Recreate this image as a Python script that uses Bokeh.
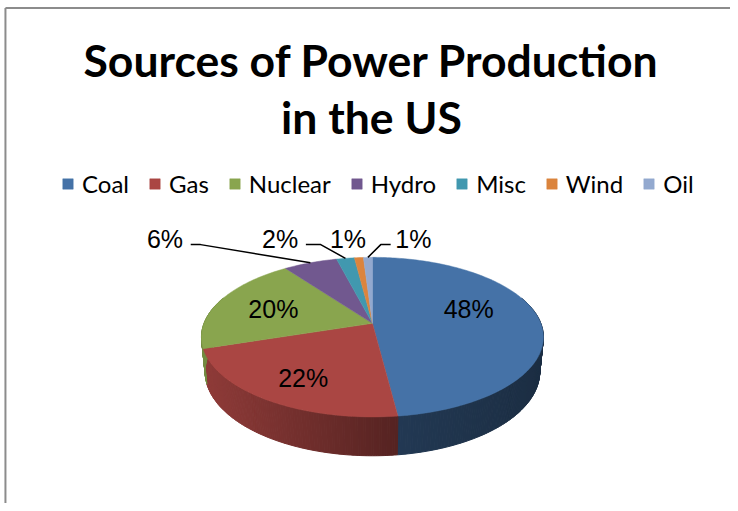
import numpy as np
from bokeh.plotting import figure
from bokeh.models import Range1d, ColumnDataSource, Legend, LegendItem
from bokeh.core.properties import value
from bokeh.embed import file_html
from bokeh.resources import INLINE

# ---------------- data ----------------
categories = ["Coal", "Gas", "Nuclear", "Hydro", "Misc", "Wind", "Oil"]
shares = [48, 22, 20, 6, 2, 1, 1]
colors = ["#4572A7", "#AA4643", "#89A54E", "#71588F", "#4198AF", "#DB843D", "#93A9CF"]
title_lines = ["Sources of Power Production", "in the US"]

# ---------------- layout / projection ----------------
CX, CY = 376.0, 328.0          # pie centre (top face), reference pixel coords
F, D = 875.0, 5.14             # perspective focal length / distance
SIN_E, COS_E = 0.462, 0.887    # elevation of view
H = 0.235                      # pie thickness (radius units)
INSIDE_R = 0.6
INSIDE_NUDGE = {"Coal": (-4, -12), "Gas": (-10, 12), "Nuclear": (-6, 0)}
OUTSIDE = {"Hydro": -147, "Misc": -66, "Wind": -11, "Oil": 46}   # label shift from anchor
LEADER = {"Hydro": True, "Misc": True, "Wind": False, "Oil": True}


def proj(X, Y, Z=0.0):
    depth = Y * COS_E - Z * SIN_E + D
    return CX + F * X / depth, CY - F * (Y * SIN_E + Z * COS_E) / depth


def shade(hexc, f):
    r, g, b = (int(hexc[i:i + 2], 16) for i in (1, 3, 5))
    return "#%02x%02x%02x" % (int(r * f), int(g * f), int(b * f))


p = figure(width=730, height=503, x_range=Range1d(0, 738), y_range=Range1d(511, 0),
           min_border=0, toolbar_location=None, output_backend="svg",
           x_axis_location=None, y_axis_location=None)
p.grid.visible = False
p.outline_line_color = None
p.background_fill_color = "white"

# chart-area border (left and top)
p.line([5, 5], [511, 7.5], line_color="#8c8c8c", line_width=2)
p.line([5, 738], [7.5, 7.5], line_color="#8c8c8c", line_width=2)

total = float(sum(shares))
bounds = np.concatenate([[0.0], np.cumsum(shares) / total]) * 2 * np.pi

# ---------------- side wall ----------------
wx, wy, wc = [], [], []
for i in range(len(categories)):
    a0, a1 = bounds[i], bounds[i + 1]
    n = max(2, int(np.degrees(a1 - a0) / 0.75) + 1)
    ph = np.linspace(a0, a1, n)
    for j in range(n - 1):
        t0, t1 = ph[j], ph[j + 1]
        if np.cos((t0 + t1) / 2) > 0.35:
            continue
        x0, y0 = proj(np.sin(t0), np.cos(t0), 0)
        x1, y1 = proj(np.sin(t1), np.cos(t1), 0)
        x2, y2 = proj(np.sin(t1), np.cos(t1), -H)
        x3, y3 = proj(np.sin(t0), np.cos(t0), -H)
        sx = (x0 + x1) / 2 - CX
        f = float(np.interp(sx, [-175, 27, 175], [0.85, 0.50, 0.40]))
        wx.append([x0, x1, x2, x3])
        wy.append([y0, y1, y2, y3])
        wc.append(shade(colors[i], f))
p.patches(xs=wx, ys=wy, fill_color=wc, line_color=wc, line_width=1)

# ---------------- top faces ----------------
tx, ty = [], []
for i in range(len(categories)):
    ph = np.linspace(bounds[i], bounds[i + 1], max(3, int(np.degrees(bounds[i + 1] - bounds[i])) + 2))
    px, py = proj(np.sin(ph), np.cos(ph), 0)
    tx.append([CX] + list(px))
    ty.append([CY] + list(py))
top_src = ColumnDataSource(dict(xs=tx, ys=ty, color=colors, cat=categories))
top = p.patches(xs="xs", ys="ys", fill_color="color", line_color="color", line_width=0.5, source=top_src)

# ---------------- labels ----------------
lab_x, lab_y, lab_t = [], [], []
lead_x, lead_y = [], []
for i, cat in enumerate(categories):
    mid = (bounds[i] + bounds[i + 1]) / 2
    txt = "%d%%" % round(shares[i] / total * 100)
    if cat in OUTSIDE:
        ax, ay = proj(np.sin(mid), np.cos(mid), 0)
        lx, ly = ax + OUTSIDE[cat], 242
        lab_x.append(lx); lab_y.append(ly); lab_t.append(txt)
        if LEADER[cat]:
            if lx < ax:
                sx0 = lx + 26
                lead_x.append([sx0, sx0 + (10 if OUTSIDE[cat] < -100 else 15), ax])
            else:
                sx0 = lx - 23
                lead_x.append([sx0, sx0 - 10, ax])
            lead_y.append([248, 248, ay])
    else:
        lx, ly = proj(INSIDE_R * np.sin(mid), INSIDE_R * np.cos(mid), 0)
        dx, dy = INSIDE_NUDGE.get(cat, (0, 0))
        lab_x.append(lx + dx); lab_y.append(ly + dy); lab_t.append(txt)

p.multi_line(xs=lead_x, ys=lead_y, line_color="black", line_width=1.5)
p.text(x=lab_x, y=lab_y, text=lab_t, text_font=value("Liberation Sans"), text_font_size="25px",
       text_align="center", text_baseline="middle", text_color="black")

# ---------------- title ----------------
p.text(x=[375, 375], y=[60, 118], text=title_lines, text_font=value("Lato"),
       text_font_style="bold", text_font_size="44.5px", text_align="center",
       text_baseline="middle", text_color="black")

# ---------------- legend ----------------
legend = Legend(items=[LegendItem(label=c, renderers=[top], index=i) for i, c in enumerate(categories)],
                orientation="horizontal", location=(61, 305), glyph_width=13, glyph_height=13,
                label_standoff=8, spacing=19, padding=0, margin=0, border_line_color=None,
                background_fill_alpha=0, label_text_font="Lato", label_text_font_size="24px",
                label_text_color="black")
p.add_layout(legend)

open("out.html", "w").write(file_html(p, INLINE))
